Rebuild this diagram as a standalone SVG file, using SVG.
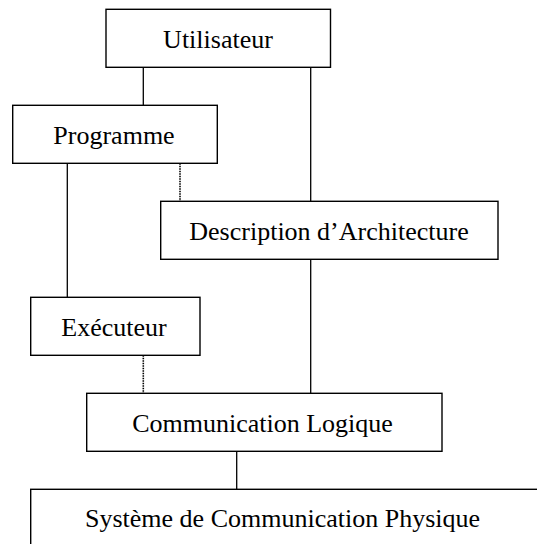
<svg xmlns="http://www.w3.org/2000/svg" width="537" height="544" viewBox="0 0 537 544">
<style>
.box{fill:#fff;stroke:#000;stroke-width:1.4}
.lbl{font-family:"Liberation Serif","Times New Roman",serif;font-size:26px;fill:#000;text-anchor:middle}
.ln{stroke:#000;stroke-width:1.3;fill:none}
.dot{stroke:#000;stroke-width:1.6;fill:none;stroke-dasharray:1.5 1}
</style>
<rect width="537" height="544" fill="#fff"/>
<g id="connectors">
<line class="ln" x1="143.3" y1="67.3" x2="143.3" y2="105.3"/>
<line class="ln" x1="310.7" y1="67.3" x2="310.7" y2="201.3"/>
<line class="ln" x1="67.3" y1="163.3" x2="67.3" y2="297.3"/>
<line class="dot" x1="180" y1="163.3" x2="180" y2="201.3"/>
<line class="ln" x1="310.7" y1="259.3" x2="310.7" y2="393.3"/>
<line class="dot" x1="143.3" y1="355.3" x2="143.3" y2="393.3"/>
<line class="ln" x1="236.7" y1="451.3" x2="236.7" y2="489.3"/>
</g>
<g id="utilisateur">
<rect class="box" x="106" y="9.3" width="224.5" height="58"/>
<text class="lbl" x="218" y="48">Utilisateur</text>
</g>
<g id="programme">
<rect class="box" x="12.7" y="105.3" width="204.6" height="58"/>
<text class="lbl" x="114" y="144">Programme</text>
</g>
<g id="description">
<rect class="box" x="160.7" y="201.3" width="337.3" height="58"/>
<text class="lbl" x="329" y="240">Description d’Architecture</text>
</g>
<g id="executeur">
<rect class="box" x="30.7" y="297.3" width="169.3" height="58"/>
<text class="lbl" x="114" y="336">Exécuteur</text>
</g>
<g id="communication">
<rect class="box" x="86.7" y="393.3" width="355.3" height="58"/>
<text class="lbl" x="262.5" y="432">Communication Logique</text>
</g>
<g id="systeme">
<rect class="box" x="30.7" y="489.3" width="520" height="70"/>
<text class="lbl" x="282.5" y="527">Système de Communication Physique</text>
</g>
</svg>
